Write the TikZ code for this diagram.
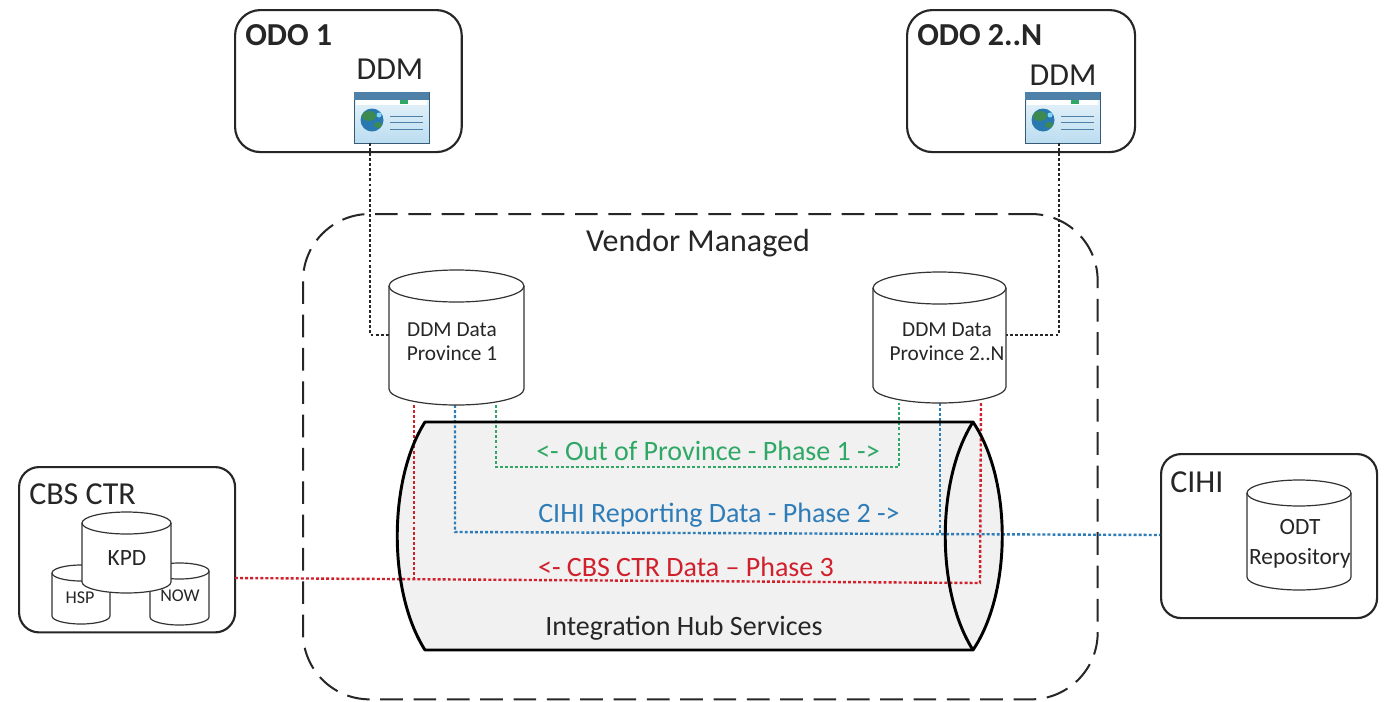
\documentclass[tikz,border=0pt]{standalone}
\usepackage{fontspec}
\setmainfont{Carlito}
\definecolor{dgreen}{HTML}{2FA866}
\definecolor{dblue}{HTML}{2E7CB8}
\definecolor{dred}{HTML}{D0202C}
\definecolor{hubgray}{HTML}{F1F1F1}
\definecolor{wintop}{HTML}{4F81A8}
\definecolor{winbody}{HTML}{BBDDF0}
\definecolor{globeb}{HTML}{2A78B0}
\definecolor{globeg}{HTML}{3C8A50}
\tikzset{
  x=0.75pt,y=-0.75pt,
  orgbox/.style={draw=black!85,line width=1.6pt,rounded corners=19pt,fill=white,inner sep=0pt,anchor=north west},
  vendorbox/.style={draw=black!85,line width=1.5pt,dash pattern=on 17pt off 8pt,rounded corners=50pt,inner sep=0pt,anchor=north west},
  cylline/.style={draw=black!80,line width=0.9pt,fill=white},
  link/.style={line width=1.8pt,dash pattern=on 2.2pt off 1.6pt},
  blk/.style={link,draw=black!85},
  grn/.style={link,draw=dgreen},
  blu/.style={link,draw=dblue},
  rd/.style={link,draw=dred},
  txt/.style={inner sep=0pt,align=center,font=\fontsize{#1}{#1}\selectfont,text=black!85},
  txt/.default=15,
  hubline/.style={draw=black,line width=2.2pt,line join=round},
}
% name, x1, y1, x2, y2, half height of the end ellipses
\newcommand{\dbcylinder}[6]{%
  \path[cylline] (#2,#3+#6) .. controls (#2,#3+0.45*#6) and ({#2+0.225*(#4-#2)},#3) .. ({0.5*(#2+#4)},#3)
     .. controls ({#4-0.225*(#4-#2)},#3) and (#4,#3+0.45*#6) .. (#4,#3+#6)
     -- (#4,#5-#6) .. controls (#4,#5-0.45*#6) and ({#4-0.225*(#4-#2)},#5) .. ({0.5*(#2+#4)},#5)
     .. controls ({#2+0.225*(#4-#2)},#5) and (#2,#5-0.45*#6) .. (#2,#5-#6) -- cycle;
  \path[cylline,fill=none] (#2,#3+#6) .. controls (#2,#3+1.55*#6) and ({#2+0.225*(#4-#2)},#3+2*#6) .. ({0.5*(#2+#4)},#3+2*#6)
     .. controls ({#4-0.225*(#4-#2)},#3+2*#6) and (#4,#3+1.55*#6) .. (#4,#3+#6);
  \coordinate (#1) at ({0.5*(#2+#4)},{0.5*(#3+#5)});
}
\newcommand{\browsericon}[3]{%
  \node[draw=wintop!70!black,line width=0.5pt,top color=white!70!winbody,bottom color=winbody,minimum width=56pt,minimum height=38pt,inner sep=0pt,anchor=north west] (#1) at (#2,#3) {};
  \fill[wintop] (#2,#3) rectangle ++(75,8);
  \fill[white] (#2+2,#3+8) rectangle ++(71,5);
  \fill[dgreen] (#2+46,#3+8) rectangle ++(8,4);
  \fill[globeb] (#2+18,#3+28) circle[radius=11.5];
  \fill[globeg] (#2+15,#3+24) ellipse[x radius=7,y radius=5];
  \fill[globeg] (#2+24,#3+33) ellipse[x radius=4,y radius=3];
  \fill[white!50!cyan] (#2+25,#3+23) circle[radius=2.5];
  \foreach \yy in {24,30,37}{\draw[wintop,line width=0.7pt] (#2+36,#3+\yy) -- ++(33,0);}
}
\begin{document}
\begin{tikzpicture}
\useasboundingbox (0,0) rectangle (1386,701);
\fill[white] (0,0) rectangle (1386,701);

% vendor area
\node[vendorbox,minimum width=596pt,minimum height=364pt] (vendor) at (302,213) {};
\node[txt=24] (vendorlabel) at (698,243) {Vendor Managed};

% hub
\path[fill=hubgray] (425,422) -- (973,422) .. controls (1012,480) and (1012,592) .. (973,650) -- (425,650) .. controls (388,592) and (388,480) .. (425,422) -- cycle;

% org boxes
\node[orgbox,minimum width=170pt,minimum height=106.5pt] (odoa) at (234,9) {};
\node[orgbox,minimum width=171pt,minimum height=106.5pt] (odob) at (906,9) {};
\node[orgbox,minimum width=162pt,minimum height=124pt,rounded corners=15pt] (cbs) at (18,466) {};
\node[orgbox,minimum width=162pt,minimum height=123pt,rounded corners=15pt] (cihi) at (1160,453) {};

\browsericon{iconA}{354}{92}
\browsericon{iconB}{1025}{92}

% named ends
\coordinate (dA) at (370,143);
\coordinate (dAb) at (370,335);
\coordinate (dB) at (1059,143);
\coordinate (dBb) at (1059,335);
\coordinate (pa) at (389,335);
\coordinate (pb) at (1006,335);
\coordinate (ga) at (496,405);
\coordinate (gm) at (496,467);
\coordinate (gn) at (899,467);
\coordinate (gb) at (899,403);
\coordinate (ba) at (455,405);
\coordinate (bm) at (455,532);
\coordinate (bb) at (940,403);
\coordinate (bn) at (940,534);
\coordinate (bc) at (1160,535);
\coordinate (ra) at (414,405);
\coordinate (rm) at (414,580);
\coordinate (rs) at (235,578);
\coordinate (rn) at (980,583);
\coordinate (rb) at (981,403);

\draw[blk] (dA) -- (dAb) -- (pa);
\draw[blk] (dB) -- (dBb) -- (pb);
\draw[grn] (ga) -- (gm) -- (gn) -- (gb);
\draw[blu] (ba) -- (bm) -- (bc);
\draw[blu] (bb) -- (bn);
\draw[rd] (rs) -- (rn) -- (rb);
\draw[rd] (ra) -- (rm);

% hub outline
\draw[hubline] (425,422) -- (973,422) .. controls (1012,480) and (1012,592) .. (973,650) -- (425,650) .. controls (388,592) and (388,480) .. (425,422) -- cycle;
\draw[hubline] (973,422) .. controls (936,480) and (936,592) .. (973,650);

% cylinders
\dbcylinder{cyla}{389}{270}{524}{405}{16}
\dbcylinder{cylb}{873}{272}{1006}{403}{16}
\dbcylinder{hsp}{52}{565}{110}{624}{8}
\dbcylinder{now}{150}{563}{209}{625}{8}
\dbcylinder{kpd}{82}{512}{171}{593}{11}
\dbcylinder{odt}{1247}{480}{1351}{590}{13}

% labels
\node[txt=24,font=\fontsize{24}{24}\selectfont\bfseries,anchor=west] (odoalabel) at (245,35) {ODO 1};
\node[txt=24,font=\fontsize{24}{24}\selectfont\bfseries,anchor=west] (odoblabel) at (917,35) {ODO 2..N};
\node[txt=24] (ddma) at (390,69) {DDM};
\node[txt=24] (ddmb) at (1063,75) {DDM};
\node[txt=24,anchor=west] (cbslabel) at (29,494) {CBS CTR};
\node[txt=24,anchor=west] (cihilabel) at (1170,482) {CIHI};
\node[txt=16] (pa1) at (452,342) {DDM Data\\[2pt]Province 1};
\node[txt=16] (pb1) at (947,342) {DDM Data\\[2pt]Province 2..N};
\node[txt=17.5] (kpdl) at (127,558) {KPD};
\node[txt=13.5] (hspl) at (80,598) {HSP};
\node[txt=13.5] (nowl) at (180,596) {NOW};
\node[txt=17.5] (odtl) at (1300,544) {ODT\\[5pt]Repository};
\node[txt=21,text=dgreen] (greenl) at (708,451) {<- Out of Province - Phase 1 ->};
\node[txt=21,text=dblue] (bluel) at (719,515) {CIHI Reporting Data - Phase 2 ->};
\node[txt=21,text=dred] (redl) at (686,567) {<- CBS CTR Data – Phase 3};
\node[txt=21] (hubl) at (684,628) {Integration Hub Services};
\end{tikzpicture}
\end{document}
